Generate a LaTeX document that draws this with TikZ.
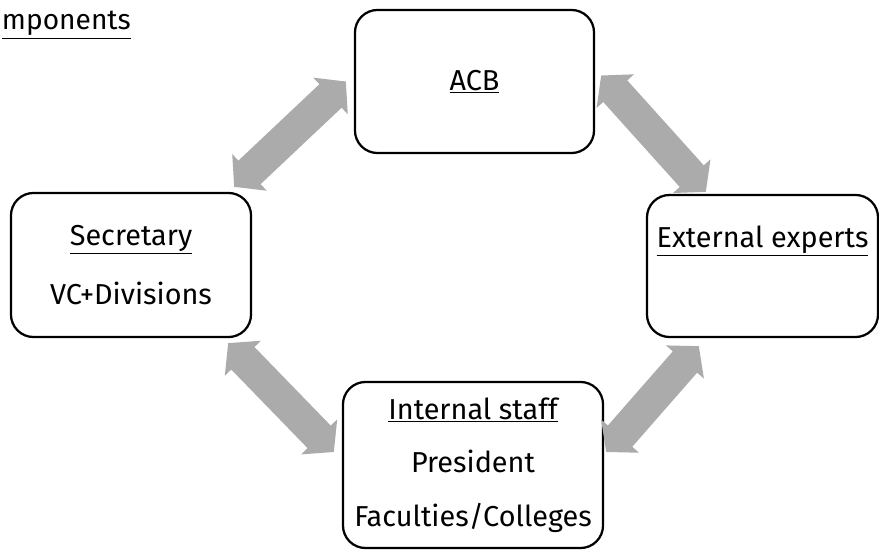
\documentclass[tikz,border=0pt]{standalone}
\usepackage{fontspec}
\setmainfont{Fira Sans}
\usetikzlibrary{arrows.meta}

\begin{document}
\begin{tikzpicture}[x=0.025cm,y=-0.025cm,
    box/.style={draw, line width=1.6pt, rounded corners=16pt, align=center,
                font=\fontsize{20.5}{38}\selectfont},
    duoarrow/.style={draw=black!33, line width=23pt,
                {Triangle[length=15pt,width=35pt]}-{Triangle[length=15pt,width=35pt]}}]
  \useasboundingbox (0,0) rectangle (879,550);

  \node[anchor=west, font=\fontsize{20}{24}\selectfont] (title) at (-3,25) {\underline{mponents}};

  \node[box, minimum width=5.975cm, minimum height=3.575cm] (acb) at (474.5,81.5) {\underline{ACB}};
  \node[box, minimum width=6cm, minimum height=3.6cm] (sec) at (131,265)
       {\underline{Secretary}\\[4pt]VC+Divisions};
  \node[box, minimum width=5.775cm, minimum height=3.55cm] (ext) at (762.5,266)
       {\underline{External experts}\\[4pt]\mbox{}};
  \node[box, minimum width=6.5cm, minimum height=4.15cm] (int) at (473,465)
       {\underline{Internal staff}\\President\\Faculties/Colleges};

  \draw[duoarrow] ([shift={(-18,-5)}]sec.north east) -- ([shift={(-8,0)}]acb.west);
  \draw[duoarrow] ([shift={(6,-6)}]acb.east) -- ([shift={(60,-2)}]ext.north west);
  \draw[duoarrow] ([shift={(-24,5)}]sec.south east) -- ([shift={(-8,-13)}]int.west);
  \draw[duoarrow] ([shift={(2,-13)}]int.east) -- ([shift={(53,8)}]ext.south west);
\end{tikzpicture}
\end{document}
